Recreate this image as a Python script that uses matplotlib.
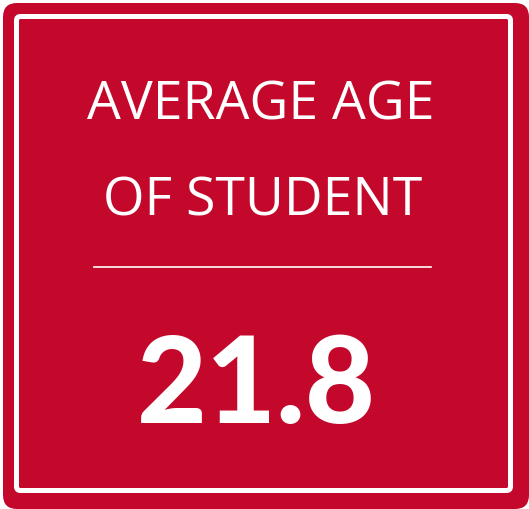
import matplotlib
matplotlib.use("Agg")
import matplotlib.pyplot as plt
from matplotlib.patches import FancyBboxPatch

title_lines = ["AVERAGE AGE", "OF STUDENT"]
value_label = "21.8"

RED = "#C4082C"
W, H = 529, 509
fig = plt.figure(figsize=(W/100, H/100), dpi=100)
ax = fig.add_axes([0, 0, 1, 1])
ax.set_xlim(0, W)
ax.set_ylim(H, 0)
ax.axis("off")
fig.patch.set_facecolor("white")

# outer red rounded rect
ax.add_patch(FancyBboxPatch((3 + 14, 3 + 14), 526 - 28, 506 - 28,
                            boxstyle="round,pad=14", fc=RED, ec="none"))
# white inner border
ax.add_patch(FancyBboxPatch((16.5 + 4, 16.5 + 4), 494 - 8, 474 - 8,
                            boxstyle="round,pad=4", fc="none", ec="white", lw=5*72/100))

ax.text(261, 119, title_lines[0], color="white", ha="center", va="baseline",
        fontsize=38.5, family="Open Sans")
ax.text(262.5, 215, title_lines[1], color="white", ha="center", va="baseline",
        fontsize=38.5, family="Open Sans")
ax.plot([94, 431], [267, 267], color="white", lw=1.2)
ax.text(256, 423, value_label, color="white", ha="center", va="baseline",
        fontsize=87, family="Lato", fontweight="black")

fig.savefig("out.png", dpi=100, facecolor="white")
